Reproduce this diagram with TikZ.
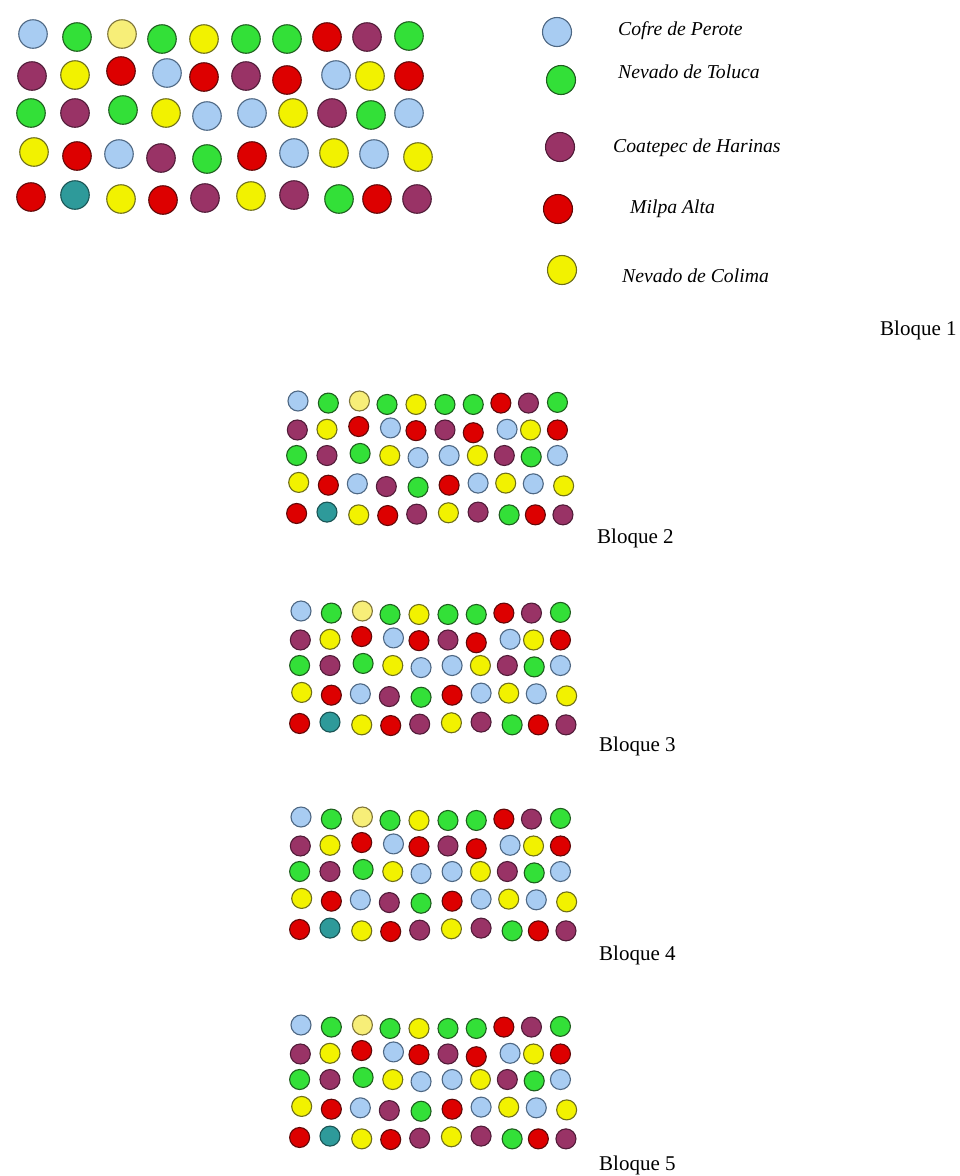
\documentclass[tikz,border=0pt]{standalone}
\usepackage{fontspec}
\setmainfont{Liberation Serif}
\definecolor{colB}{HTML}{A8CCF2}\definecolor{lnB}{HTML}{4E6884}
\definecolor{colG}{HTML}{33E038}\definecolor{lnG}{HTML}{1E5E1E}
\definecolor{colY}{HTML}{F2F200}\definecolor{lnY}{HTML}{6E6E1A}
\definecolor{colL}{HTML}{F7EE78}\definecolor{lnL}{HTML}{7E7438}
\definecolor{colR}{HTML}{DD0000}\definecolor{lnR}{HTML}{600808}
\definecolor{colP}{HTML}{993366}\definecolor{lnP}{HTML}{501C38}
\definecolor{colT}{HTML}{2E9A9A}\definecolor{lnT}{HTML}{1A5454}
\tikzset{
  dot/.style={circle,inner sep=0pt,line width=1.1pt},
  legtext/.style={anchor=base west,inner sep=0pt,font=\fontsize{19.7}{24}\selectfont\itshape,text=black},
  bloque/.style={anchor=base west,inner sep=0pt,font=\fontsize{21}{25}\selectfont}
}
\newcommand\dotgrid[5]{% name, x0, y0, scale, diameter
  \foreach \x/\y/\c [count=\i] in {
    33/34/B,77/37/G,122/34/L,162/39/G,204/39/Y,246/39/G,287/39/G,327/37/R,367/37/P,409/36/G,
    32/76/P,75/75/Y,121/71/R,167/73/B,204/77/R,246/76/P,287/80/R,336/75/B,370/76/Y,409/76/R,
    31/113/G,75/113/P,123/110/G,166/113/Y,207/116/B,252/113/B,293/113/Y,332/113/P,371/115/G,409/113/B,
    34/152/Y,77/156/R,119/154/B,161/158/P,207/159/G,252/156/R,294/153/B,334/153/Y,374/154/B,418/157/Y,
    31/197/R,75/195/T,121/199/Y,163/200/R,205/198/P,251/196/Y,294/195/P,339/199/G,377/199/R,417/199/P}
  {\node[dot,fill=col\c,draw=ln\c,minimum size=#5] (#1-\i) at ({#2+#4*(\x-33)},{#3+#4*(\y-34)}) {};}
}
\begin{document}
\begin{tikzpicture}[x=1pt,y=-1pt]
\useasboundingbox[fill=white] (0,0) rectangle (960,1176);
% Bloque 1 grid
\dotgrid{gA}{33}{34}{1}{28.5pt}
% legend
\node[dot,fill=colB,draw=lnB,minimum size=29pt] (leg1) at (557,32) {};
\node[dot,fill=colG,draw=lnG,minimum size=29pt] (leg2) at (561,80) {};
\node[dot,fill=colP,draw=lnP,minimum size=29pt] (leg3) at (560,147) {};
\node[dot,fill=colR,draw=lnR,minimum size=29pt] (leg4) at (558,209) {};
\node[dot,fill=colY,draw=lnY,minimum size=29pt] (leg5) at (562,270) {};
\node[legtext] (legt1) at (618,35) {Cofre de Perote};
\node[legtext] (legt2) at (618,78) {Nevado de Toluca};
\node[legtext] (legt3) at (613,152) {Coatepec de Harinas};
\node[legtext] (legt4) at (630,213) {Milpa Alta};
\node[legtext] (legt5) at (622,282) {Nevado de Colima};
\node[bloque] (b1) at (880,335) {Bloque 1};
% smaller blocks
\dotgrid{gB}{298}{401}{0.69}{20pt}
\node[bloque] (b2) at (597,543) {Bloque 2};
\dotgrid{gC}{301}{611}{0.69}{20pt}
\node[bloque] (b3) at (599,751) {Bloque 3};
\dotgrid{gD}{301}{817}{0.69}{20pt}
\node[bloque] (b4) at (599,960) {Bloque 4};
\dotgrid{gE}{301}{1025}{0.69}{20pt}
\node[bloque] (b5) at (599,1170) {Bloque 5};
\end{tikzpicture}
\end{document}
